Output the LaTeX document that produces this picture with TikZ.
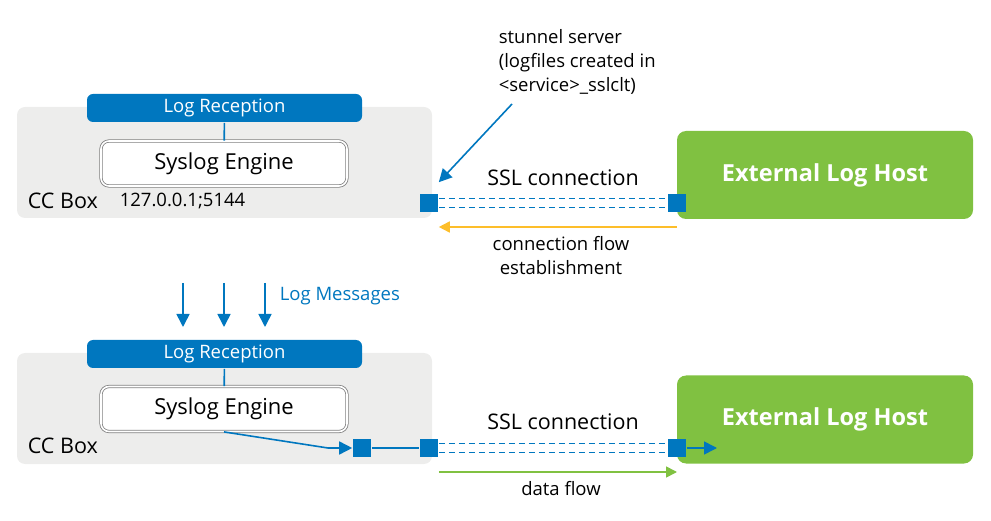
\documentclass[tikz,border=0pt]{standalone}
\usepackage{fontspec}
\setmainfont{Open Sans}
\usetikzlibrary{arrows.meta}
\definecolor{ccblue}{HTML}{0077BF}
\definecolor{ccgreen}{HTML}{80C141}
\definecolor{ccgray}{HTML}{EDEDEC}
\definecolor{ccyellow}{HTML}{FDBE2A}
\tikzstyle{ccbox} = [fill=ccgray, rounded corners=8pt, minimum width=415pt, minimum height=111pt, inner sep=0]
\tikzstyle{recvbar} = [fill=ccblue, text=white, rounded corners=6pt, minimum width=275pt, minimum height=28pt, inner sep=0, font=\fontsize{18.5}{20}\selectfont]
\tikzstyle{engine} = [draw=black!50, line width=0.8pt, double=white, double distance=1.6pt, fill=white, rounded corners=8pt, minimum width=246pt, minimum height=45pt, inner sep=0, font=\fontsize{22}{24}\selectfont]
\tikzstyle{hostbox} = [fill=ccgreen, text=white, rounded corners=9pt, minimum width=296pt, minimum height=88pt, inner sep=0, font=\fontsize{23.5}{26}\selectfont\bfseries]
\tikzstyle{port} = [fill=ccblue, minimum size=18pt, inner sep=0]
\tikzstyle{tunnel} = [ccblue, dash pattern=on 6pt off 4pt]
\tikzstyle{bigtext} = [font=\fontsize{21.5}{24}\selectfont]
\tikzstyle{smalltext} = [font=\fontsize{18.5}{24}\selectfont]

\begin{document}
\begin{tikzpicture}[x=1pt, y=-1pt, >={Triangle[length=13pt, width=13pt]}, line width=1.6pt]
      \useasboundingbox (0, 0) rectangle (991, 521);

      % top: connection establishment
      \node[ccbox] (ccboxA) at (224.5, 162.5) {};
      \node[recvbar] (recvA) at (224.5, 108) {Log Reception};
      \node[engine] (engineA) at (224, 163.5) {Syslog Engine};
      \node[bigtext, anchor=west, inner sep=0] (cclabelA) at (27, 201) {CC Box};
      \node[smalltext, anchor=west, inner sep=0] (addr) at (119, 201) {127.0.0.1;5144};
      \node[port] (srvA) at (429, 203) {};
      \node[hostbox] (hostA) at (825, 175) {External Log Host};
      \node[port] (cltA) at (677, 203) {};
      \node[bigtext] (sslA) at (563, 178) {SSL connection};
      \node[smalltext, align=center] (flowA) at (561, 256) {connection flow\\establishment};
      \node[smalltext, align=left, anchor=north west, inner sep=0] (stunnel) at (498, 29) {stunnel server\\(logfiles created in\\<service>\_sslclt)};
      \coordinate (stunnelfoot) at (512, 104);

      \draw[ccblue] (recvA) -- (engineA);
      \draw[tunnel] ([yshift=4.5pt]srvA.east) -- ([yshift=4.5pt]cltA.west);
      \draw[tunnel] ([yshift=-4.5pt]srvA.east) -- ([yshift=-4.5pt]cltA.west);
      \draw[-{Triangle[length=11pt, width=11pt]}, ccyellow] ([yshift=-24pt]cltA.center) -- ([yshift=-24pt]srvA.east);
      \draw[->, ccblue] (stunnelfoot) -- ([yshift=11pt]srvA.north east);

      % log messages
      \foreach \x in {183, 224, 265}
        \draw[->, ccblue] (\x, 283) -- (\x, 327);
      \node[smalltext, text=ccblue, anchor=west, inner sep=0] (logmsg) at (279, 296) {Log Messages};

      % bottom: data flow
      \node[ccbox] (ccboxB) at (224.5, 408.5) {};
      \node[recvbar] (recvB) at (224.5, 354) {Log Reception};
      \node[engine] (engineB) at (224, 409) {Syslog Engine};
      \node[bigtext, anchor=west, inner sep=0] (cclabelB) at (27, 446) {CC Box};
      \node[port] (inB) at (362, 448) {};
      \node[port] (srvB) at (429, 448) {};
      \node[hostbox] (hostB) at (825, 419.5) {External Log Host};
      \node[port] (cltB) at (677, 448) {};
      \node[bigtext] (sslB) at (563, 422) {SSL connection};
      \node[smalltext] (flowB) at (561, 489) {data flow};
      \coordinate (bend) at (328, 448);
      \coordinate (hostin) at (717, 448);

      \draw[ccblue] (recvB) -- (engineB);
      \draw[->, ccblue] (engineB.south) -- (bend) -- (inB.west);
      \draw[ccblue] (inB) -- (srvB);
      \draw[tunnel] ([yshift=4.5pt]srvB.east) -- ([yshift=4.5pt]cltB.west);
      \draw[tunnel] ([yshift=-4.5pt]srvB.east) -- ([yshift=-4.5pt]cltB.west);
      \draw[->, ccblue] (cltB.east) -- (hostin);
      \draw[-{Triangle[length=11pt, width=11pt]}, ccgreen] ([yshift=-24pt]srvB.east) -- ([yshift=-24pt]cltB.center);
    \end{tikzpicture}
\end{document}
